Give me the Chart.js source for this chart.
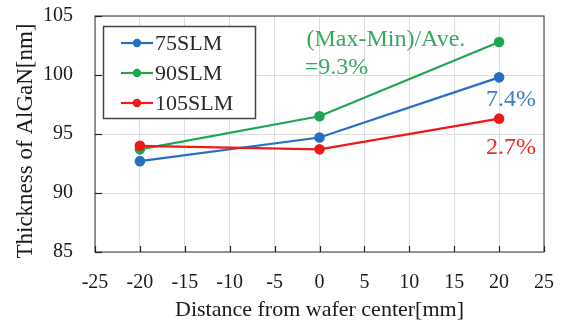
<!DOCTYPE html>
<html>
<head>
<meta charset="utf-8">
<script src="https://cdn.jsdelivr.net/npm/chart.js@4/dist/chart.umd.min.js"></script>
<style>
html,body{margin:0;padding:0;background:#fff;}
#wrap{width:564px;height:321px;position:relative;}
</style>
</head>
<body>
<div id="wrap"><canvas id="c" width="564" height="321"></canvas></div>
<script>
const positions = [-20, 0, 20];
const seriesNames = ['75SLM', '90SLM', '105SLM'];
const s75 = [92.7, 94.7, 99.8];
const s90 = [93.7, 96.5, 102.8];
const s105 = [94.0, 93.7, 96.3];
const xTicks = [-25, -20, -15, -10, -5, 0, 5, 10, 15, 20, 25];
const yTicks = [85, 90, 95, 100, 105];
const notes = ['(Max-Min)/Ave.', '=9.3%', '7.4%', '2.7%'];
const yTitle = 'Thickness of AlGaN[nm]';

const colors = ['#2470c0', '#1fa650', '#f01818'];
const noteColors = ['#35aa5e', '#35aa5e', '#3f7cc2', '#ec2a2a'];
const FONT = "'Liberation Serif', 'Times New Roman', serif";

const series = [s75, s90, s105];
const datasets = series.map((vals, i) => ({
  label: seriesNames[i],
  data: positions.map((x, j) => ({x: x, y: vals[j]})),
  borderColor: colors[i],
  backgroundColor: colors[i],
  borderWidth: 2.2,
  pointRadius: 4.2,
  pointHoverRadius: 4.2,
  tension: 0,
  order: [3, 2, 1][i]
}));

const decor = {
  id: 'decor',
  afterDatasetsDraw(chart) {
    const ctx = chart.ctx;
    const a = chart.chartArea;
    const xs = chart.scales.x, ys = chart.scales.y;
    ctx.save();
    ctx.strokeStyle = '#555';
    ctx.lineWidth = 1.2;
    ctx.strokeRect(a.left, a.top, a.right - a.left, a.bottom - a.top);
    ctx.strokeStyle = '#222';
    ctx.lineWidth = 1.2;
    yTicks.forEach(v => {
      const y = Math.round(ys.getPixelForValue(v)) + 0.5;
      ctx.beginPath(); ctx.moveTo(a.left, y); ctx.lineTo(a.left + 7, y); ctx.stroke();
    });
    xTicks.forEach(v => {
      const x = Math.round(xs.getPixelForValue(v)) + 0.5;
      ctx.beginPath(); ctx.moveTo(x, a.bottom); ctx.lineTo(x, a.bottom - 6); ctx.stroke();
    });
    // y axis title
    ctx.save();
    ctx.translate(26, 141);
    ctx.rotate(-Math.PI / 2);
    ctx.fillStyle = '#1a1a1a';
    ctx.font = '23px ' + FONT;
    ctx.textAlign = 'center';
    ctx.textBaseline = 'middle';
    ctx.fillText(yTitle, 0, 0);
    ctx.restore();
    // legend
    const L = 103, T = 26, W = 152, H = 92;
    ctx.fillStyle = '#fff';
    ctx.fillRect(L, T, W, H);
    ctx.strokeStyle = '#444';
    ctx.lineWidth = 1.5;
    ctx.strokeRect(L + 0.5, T + 0.5, W, H);
    chart.data.datasets.forEach((ds, i) => {
      const cy = 43 + i * 30;
      ctx.strokeStyle = ds.borderColor;
      ctx.lineWidth = 2.2;
      ctx.beginPath(); ctx.moveTo(121, cy); ctx.lineTo(153, cy); ctx.stroke();
      ctx.fillStyle = ds.borderColor;
      ctx.beginPath(); ctx.arc(137, cy, 4.2, 0, Math.PI * 2); ctx.fill();
      ctx.fillStyle = '#2a2a2a';
      ctx.font = '22px ' + FONT;
      ctx.textAlign = 'left';
      ctx.textBaseline = 'middle';
      ctx.fillText(ds.label, 155, cy + 1);
    });
    // annotations
    ctx.font = '24px ' + FONT;
    ctx.textBaseline = 'middle';
    ctx.textAlign = 'left';
    ctx.fillStyle = noteColors[0];
    ctx.fillText(notes[0], xs.getPixelForValue(-1.45), ys.getPixelForValue(103.0));
    ctx.fillStyle = noteColors[1];
    ctx.fillText(notes[1], xs.getPixelForValue(-1.65), ys.getPixelForValue(100.6));
    ctx.textAlign = 'right';
    ctx.fillStyle = noteColors[2];
    ctx.fillText(notes[2], xs.getPixelForValue(24.1), ys.getPixelForValue(97.9));
    ctx.fillStyle = noteColors[3];
    ctx.fillText(notes[3], xs.getPixelForValue(24.1), ys.getPixelForValue(93.8));
    ctx.restore();
  }
};

new Chart(document.getElementById('c'), {
  type: 'line',
  data: { datasets: datasets },
  options: {
    responsive: false,
    animation: false,
    devicePixelRatio: 1,
    layout: { padding: { top: 16, right: 20, left: 0, bottom: 0 } },
    plugins: { legend: { display: false }, tooltip: { enabled: false } },
    scales: {
      x: {
        type: 'linear',
        min: -25, max: 25,
        afterBuildTicks: s => { s.ticks = xTicks.map(v => ({value: v})); },
        afterFit: s => { s.height = 69; s.paddingLeft = 0; s.paddingRight = 0; },
        grid: { color: '#dedede', lineWidth: 1, drawTicks: false },
        border: { display: false },
        ticks: { color: '#1a1a1a', font: { family: FONT, size: 20 }, padding: 19, maxRotation: 0, autoSkip: false },
        title: { display: true, text: 'Distance from wafer center[mm]', color: '#1a1a1a',
                 font: { family: FONT, size: 22, lineHeight: 1 }, padding: { top: 0, bottom: 0 } }
      },
      y: {
        min: 85, max: 105,
        afterBuildTicks: s => { s.ticks = yTicks.map(v => ({value: v})); },
        afterFit: s => { s.width = 95; s.paddingTop = 0; s.paddingBottom = 0; },
        grid: { color: '#dedede', lineWidth: 1, drawTicks: false },
        border: { display: false },
        ticks: { color: '#1a1a1a', font: { family: FONT, size: 20 }, padding: 22 },
        title: { display: false }
      }
    }
  },
  plugins: [decor]
});
</script>
</body>
</html>
